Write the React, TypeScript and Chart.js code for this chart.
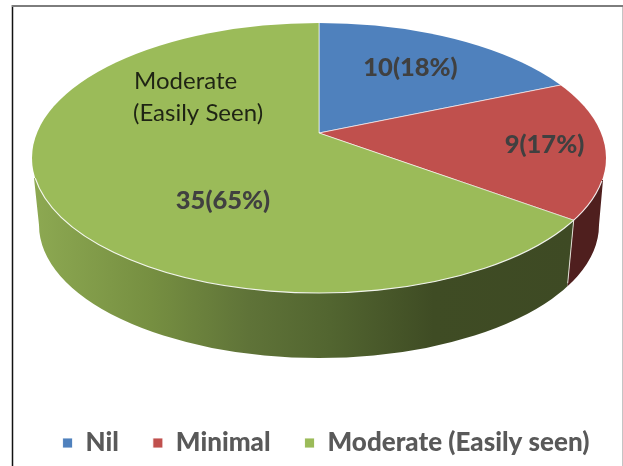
import React, { useEffect, useRef } from "react";
import { Chart, registerables } from "chart.js";

Chart.register(...registerables);

const categories = ["Nil", "Minimal", "Moderate (Easily seen)"];
const counts = [10, 9, 35];
const sliceLabels = ["10(18%)", "9(17%)", "35(65%)"];
const annotationLines = ["Moderate", "(Easily Seen)"];
const sliceColors = ["#4F81BD", "#C0504D", "#9BBB59"];

const FONT = "Lato, Carlito, sans-serif";
const TOP = { cx: 319, cy: 158, rx: 287, ry: 135 };
const BOTTOM = { cx: 319, cy: 225, rx: 280, ry: 133 };
const APEX = { x: 319, y: 133 };
const SQUASH = 0.46;

function rimPoint(theta: number) {
  const dx = Math.cos(theta);
  const dy = SQUASH * Math.sin(theta);
  const oy = APEX.y - TOP.cy;
  const a = (dx * dx) / (TOP.rx * TOP.rx) + (dy * dy) / (TOP.ry * TOP.ry);
  const b = (2 * oy * dy) / (TOP.ry * TOP.ry);
  const c = (oy * oy) / (TOP.ry * TOP.ry) - 1;
  const t = (-b + Math.sqrt(b * b - 4 * a * c)) / (2 * a);
  return { x: APEX.x + t * dx, y: APEX.y + t * dy };
}

const pie3d = {
  id: "pie3d",
  beforeDraw(chart: any) {
    const { ctx } = chart;
    ctx.save();
    ctx.fillStyle = "#ffffff";
    ctx.fillRect(0, 0, chart.width, chart.height);
    ctx.lineCap = "butt";
    ctx.strokeStyle = "#111111";
    ctx.lineWidth = 1.5;
    ctx.beginPath();
    ctx.moveTo(12.5, 5);
    ctx.lineTo(12.5, 466);
    ctx.stroke();
    ctx.strokeStyle = "#c4c4c4";
    ctx.lineWidth = 1;
    ctx.beginPath();
    ctx.moveTo(622.5, 6);
    ctx.lineTo(622.5, 466);
    ctx.stroke();
    ctx.strokeStyle = "#7d7d7d";
    ctx.lineWidth = 2;
    ctx.beginPath();
    ctx.moveTo(12, 6);
    ctx.lineTo(623, 6);
    ctx.stroke();
    ctx.restore();
  },
  beforeDatasetsDraw(chart: any) {
    const { ctx } = chart;
    const arcs = chart.getDatasetMeta(0).data;
    const seam = rimPoint(arcs[1].endAngle);
    const seamBottom = { x: seam.x - 6, y: seam.y + 63 };

    const wall = () => {
      ctx.beginPath();
      ctx.moveTo(34, 178);
      ctx.lineTo(39, 225);
      ctx.ellipse(BOTTOM.cx, BOTTOM.cy, BOTTOM.rx, BOTTOM.ry, 0, Math.PI, 0, true);
      ctx.lineTo(603, 180);
      ctx.closePath();
    };

    // green wall
    ctx.save();
    ctx.beginPath();
    ctx.moveTo(0, 0);
    ctx.lineTo(seam.x, 0);
    ctx.lineTo(seam.x, seam.y);
    ctx.lineTo(seamBottom.x, seamBottom.y);
    ctx.lineTo(seamBottom.x, 466);
    ctx.lineTo(0, 466);
    ctx.closePath();
    ctx.clip();
    const g = ctx.createLinearGradient(32, 0, 574, 0);
    g.addColorStop(0, "#8DA952");
    g.addColorStop(0.22, "#768F41");
    g.addColorStop(0.4, "#5F7338");
    g.addColorStop(0.55, "#526530");
    g.addColorStop(0.74, "#3F4C24");
    g.addColorStop(1, "#3E4A24");
    ctx.fillStyle = g;
    wall();
    ctx.fill();
    ctx.restore();

    // red wall
    ctx.save();
    ctx.beginPath();
    ctx.moveTo(seam.x, 0);
    ctx.lineTo(623, 0);
    ctx.lineTo(623, 466);
    ctx.lineTo(seamBottom.x, 466);
    ctx.lineTo(seamBottom.x, seamBottom.y);
    ctx.lineTo(seam.x, seam.y);
    ctx.closePath();
    ctx.clip();
    ctx.fillStyle = "#4F1F1E";
    wall();
    ctx.fill();
    ctx.restore();

    // seam
    ctx.save();
    ctx.strokeStyle = "rgba(235,235,225,0.9)";
    ctx.lineWidth = 1;
    ctx.beginPath();
    ctx.moveTo(seam.x, seam.y);
    ctx.lineTo(seamBottom.x, seamBottom.y);
    ctx.stroke();
    ctx.restore();

    // top face: library arcs seen through an elliptical window
    ctx.save();
    ctx.beginPath();
    ctx.ellipse(TOP.cx, TOP.cy, TOP.rx, TOP.ry, 0, 0, Math.PI * 2);
    ctx.clip();
    ctx.translate(APEX.x, APEX.y);
    ctx.scale(1, SQUASH);
    ctx.translate(-arcs[0].x, -arcs[0].y);
  },
  afterDatasetsDraw(chart: any) {
    const { ctx } = chart;
    ctx.restore();

    // lit rim of the front edge
    ctx.save();
    ctx.strokeStyle = "rgba(255,255,255,0.9)";
    ctx.lineWidth = 1.2;
    ctx.beginPath();
    ctx.ellipse(TOP.cx, TOP.cy, TOP.rx, TOP.ry, 0, 0.17, Math.PI - 0.15);
    ctx.stroke();

    // slice values
    ctx.fillStyle = "#404040";
    ctx.font = `900 25.5px ${FONT}`;
    ctx.textAlign = "center";
    ctx.textBaseline = "middle";
    ctx.fillText(sliceLabels[0], 410.5, 68);
    ctx.fillText(sliceLabels[1], 544.5, 145);
    ctx.fillText(sliceLabels[2], 223, 201);

    // annotation
    ctx.fillStyle = "#1f2414";
    ctx.font = `24px ${FONT}`;
    ctx.textAlign = "left";
    ctx.fillText(annotationLines[0], 134, 81);
    ctx.fillText(annotationLines[1], 133, 113);
    ctx.restore();
  },
};

export default function App() {
  const ref = useRef<HTMLCanvasElement>(null);
  useEffect(() => {
    const chart = new Chart(ref.current!, {
      type: "pie",
      data: {
        labels: categories,
        datasets: [
          {
            data: counts,
            backgroundColor: sliceColors,
            borderColor: "rgba(255,255,255,0.85)",
            borderWidth: 1,
            radius: 360,
            clip: false,
          } as any,
        ],
      },
      options: {
        responsive: false,
        animation: false,
        layout: { padding: { left: 19, right: -10, top: 0, bottom: 0 } },
        plugins: {
          tooltip: { enabled: false },
          legend: {
            display: true,
            position: "bottom",
            labels: {
              boxWidth: 10,
              boxHeight: 10,
              padding: 34,
              color: "#595959",
              font: { family: FONT, size: 26, weight: "900" },
            },
          },
        },
      },
      plugins: [pie3d],
    });
    return () => chart.destroy();
  }, []);
  return (
    <div style={{ position: "fixed", left: 0, top: 0, width: 623, height: 466, background: "#fff" }}>
      <canvas ref={ref} width={623} height={466} style={{ display: "block" }} />
    </div>
  );
}
